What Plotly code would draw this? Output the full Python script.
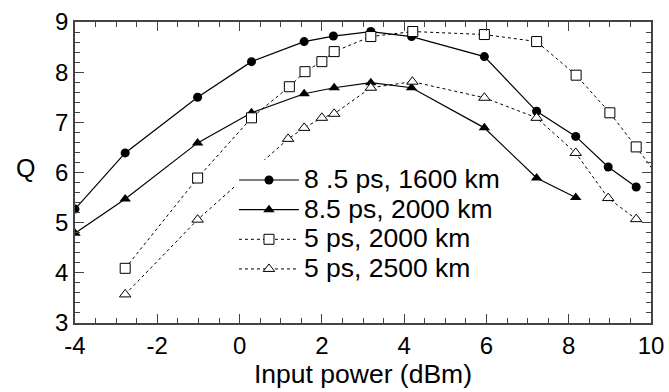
import plotly.graph_objects as go

names = ["8 .5 ps, 1600 km", "8.5 ps, 2000 km", "5 ps, 2000 km", "5 ps, 2500 km"]

x_a = [-4.0, -2.78, -1.02, 0.29, 1.57, 2.28, 3.19, 4.18, 5.95, 7.22, 8.17, 8.96, 9.64]
q_a = [5.27, 6.39, 7.50, 8.21, 8.61, 8.72, 8.81, 8.71, 8.31, 7.22, 6.72, 6.11, 5.71]

x_b = [-4.0, -2.78, -1.02, 0.29, 1.57, 2.30, 3.19, 4.18, 5.95, 7.22, 8.17]
q_b = [4.79, 5.47, 6.59, 7.19, 7.57, 7.69, 7.79, 7.69, 6.89, 5.89, 5.50]

x_c = [-2.78, -1.02, 0.29, 1.21, 1.59, 2.00, 2.30, 3.19, 4.21, 5.95, 7.22, 8.18, 9.00, 9.64, 10.5]
q_c = [4.09, 5.89, 7.09, 7.71, 8.01, 8.21, 8.41, 8.71, 8.81, 8.75, 8.61, 7.94, 7.19, 6.51, 5.55]

x_d = [-2.78, -1.02, 1.18, 1.57, 2.00, 2.30, 3.19, 4.20, 5.95, 7.22, 8.17, 8.96, 9.64]
q_d = [3.57, 5.06, 6.67, 6.89, 7.09, 7.17, 7.69, 7.81, 7.49, 7.09, 6.39, 5.49, 5.07]

x_ticks = [-4, -2, 0, 2, 4, 6, 8, 10]
y_ticks = [3, 4, 5, 6, 7, 8, 9]

FONT = "Liberation Sans, Arial, sans-serif"


def legend_label(s):
    return '<span style="font-size:26.5px">' + s + '</span>'


fig = go.Figure()
fig.add_trace(go.Scatter(x=x_a, y=q_a, name=legend_label(names[0]), mode="lines+markers",
                         line=dict(color="black", width=1.2),
                         marker=dict(symbol="circle", size=9, color="black")))
fig.add_trace(go.Scatter(x=x_b, y=q_b, name=legend_label(names[1]), mode="lines+markers",
                         line=dict(color="black", width=1.2),
                         marker=dict(symbol="triangle-up", size=10, color="black")))
fig.add_trace(go.Scatter(x=x_c, y=q_c, name=legend_label(names[2]), mode="lines+markers",
                         line=dict(color="black", width=1, dash="dot"),
                         marker=dict(symbol="square", size=10, color="white",
                                     line=dict(color="black", width=1))))
fig.add_trace(go.Scatter(x=x_d, y=q_d, name=legend_label(names[3]), mode="lines+markers",
                         line=dict(color="black", width=1, dash="dot"),
                         marker=dict(symbol="triangle-up", size=10, color="white",
                                     line=dict(color="black", width=1))))

axis_common = dict(
    showgrid=False, zeroline=False, showline=True, linecolor="#444", linewidth=1.5,
    mirror="allticks", ticks="inside", ticklen=9, tickwidth=1.2, tickcolor="#444",
    tickfont=dict(family=FONT, size=24, color="black"), automargin=False,
)
fig.update_xaxes(range=[-4, 10], tickvals=x_ticks, ticktext=[str(v) for v in x_ticks],
                 minor=dict(dtick=0.5, ticks="inside", ticklen=5, tickcolor="#444", tickwidth=1),
                 title=dict(text="Input power (dBm)", font=dict(family=FONT, size=26.5, color="black"),
                            standoff=0),
                 **axis_common)
fig.update_yaxes(range=[3, 9], tickvals=y_ticks, ticktext=[str(v) for v in y_ticks],
                 minor=dict(dtick=0.2, ticks="inside", ticklen=5, tickcolor="#444", tickwidth=1),
                 **axis_common)

fig.add_annotation(text="Q", xref="paper", yref="y", x=-0.106, y=6.08, showarrow=False,
                   font=dict(family=FONT, size=25, color="black"))

fig.update_layout(
    width=669, height=392,
    margin=dict(l=75, r=18, t=22, b=69),
    plot_bgcolor="white", paper_bgcolor="white",
    showlegend=True,
    legend=dict(x=0.276, y=0.541, xanchor="left", yanchor="top",
                bgcolor="white", borderwidth=0,
                font=dict(family=FONT, size=20.5, color="black"),
                tracegroupgap=0, itemwidth=60),
)

fig.write_html("out.html")
